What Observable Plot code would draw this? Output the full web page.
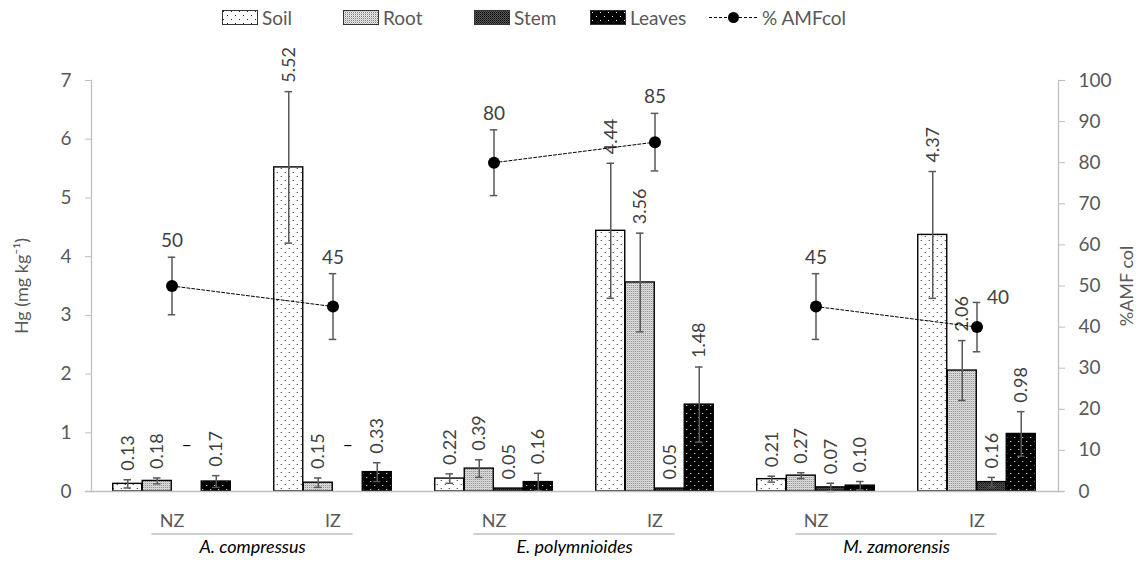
<!DOCTYPE html>
<html><head><meta charset="utf-8">
<script src="https://cdn.jsdelivr.net/npm/d3@7"></script>
<script src="https://cdn.jsdelivr.net/npm/@observablehq/plot@0.6"></script>
<style>
body{margin:0;background:#fff;font-family:Lato,"Open Sans",sans-serif;}
#legend{position:relative;height:35px;width:1141px;}
.it{position:absolute;top:0;height:35px;display:flex;align-items:center;gap:4px;font-size:19px;color:#595959;}
.it svg{display:block}
</style></head><body>
<svg width="0" height="0" style="position:absolute">
<defs>
<pattern id="pSoil" width="8" height="8" patternUnits="userSpaceOnUse">
<rect width="8" height="8" fill="#fff"/><rect x="1" y="1" width="1" height="1" fill="#222"/><rect x="5" y="5" width="1" height="1" fill="#222"/></pattern>
<pattern id="pRoot" width="2" height="2" patternUnits="userSpaceOnUse">
<rect width="2" height="2" fill="#e8e8e8"/><rect x="0" y="0" width="1" height="1" fill="#7c7c7c"/><rect x="1" y="1" width="1" height="1" fill="#c8c8c8"/></pattern>
<pattern id="pStem" width="2" height="2" patternUnits="userSpaceOnUse">
<rect width="2" height="2" fill="#5a5a5a"/><rect x="0" y="0" width="1" height="1" fill="#000"/><rect x="1" y="1" width="1" height="1" fill="#2a2a2a"/></pattern>
<pattern id="pLeaves" width="8" height="8" patternUnits="userSpaceOnUse">
<rect width="8" height="8" fill="#000"/><rect x="2" y="2" width="1" height="1" fill="#fff"/><rect x="6" y="6" width="1" height="1" fill="#fff"/></pattern>
</defs></svg>
<div id="legend"></div>
<div id="chart"></div>
<script>
// ---- data ----
const species = ["A. compressus", "E. polymnioides", "M. zamorensis"];
const zones = ["NZ", "IZ"];
const seriesNames = ["Soil", "Root", "Stem", "Leaves"];
const hgSoil   = [0.13, 5.52, 0.22, 4.44, 0.21, 4.37];
const hgRoot   = [0.18, 0.15, 0.39, 3.56, 0.27, 2.06];
const hgStem   = [null, null, 0.05, 0.05, 0.07, 0.16];
const hgLeaves = [0.17, 0.33, 0.16, 1.48, 0.10, 0.98];
const sdSoil   = [0.07, 1.29, 0.08, 1.15, 0.05, 1.08];
const sdRoot   = [0.05, 0.08, 0.15, 0.84, 0.05, 0.51];
const sdStem   = [null, null, 0, 0, 0.07, 0.08];
const sdLeaves = [0.10, 0.16, 0.15, 0.64, 0.07, 0.38];
const amfCol   = [50, 45, 80, 85, 45, 40];
const sdAmf    = [7, 8, 8, 7, 8, 6];
const leftTicks  = [0, 1, 2, 3, 4, 5, 6, 7];
const rightTicks = [0, 10, 20, 30, 40, 50, 60, 70, 80, 90, 100];
const yTitle = "Hg (mg kg⁻¹)";
const y2Title = "%AMF col";
const amfName = "% AMFcol";

// ---- build tables ----
const cats = species.flatMap(s => zones.map(z => `${s}|${z}`));
const hg = [hgSoil, hgRoot, hgStem, hgLeaves];
const sd = [sdSoil, sdRoot, sdStem, sdLeaves];
const rows = cats.flatMap((c, i) => seriesNames.map((s, j) => ({cat: c, series: s, j, v: hg[j][i], e: sd[j][i]})));
const amfRows = cats.map((c, i) => ({cat: c, sp: species[Math.floor(i / 2)], v: amfCol[i], e: sdAmf[i], i}));
const K = leftTicks[leftTicks.length - 1] / rightTicks[rightTicks.length - 1];

const W = 1141, H = 530, mL = 91, mR = 83, mT = 45, mB = 74;
const step = (W - mL - mR) / cats.length;
const bw = 29.5;
const pInner = 1 - bw / step;
const offs = seriesNames.map((s, j) => (j - 1.5) * bw);
const capIn = (bw - 8) / 2;
const errColor = "#595959";

const marks = [];
seriesNames.forEach((name, j) => {
  const d = rows.filter(r => r.j === j && r.v != null);
  marks.push(Plot.barY(d, {x: "cat", y: "v", fill: `url(#p${name})`, stroke: "#000", strokeWidth: 1.4, dx: offs[j]}));
});
seriesNames.forEach((name, j) => {
  const d = rows.filter(r => r.j === j && r.v != null && r.e > 0);
  marks.push(Plot.ruleX(d, {x: "cat", y1: r => r.v - r.e, y2: r => r.v + r.e, stroke: errColor, strokeWidth: 1.5, dx: offs[j]}));
  marks.push(Plot.tickY(d, {x: "cat", y: r => r.v + r.e, stroke: errColor, strokeWidth: 1.5, dx: offs[j], insetLeft: capIn, insetRight: capIn}));
  marks.push(Plot.tickY(d, {x: "cat", y: r => r.v - r.e, stroke: errColor, strokeWidth: 1.5, dx: offs[j], insetLeft: capIn, insetRight: capIn}));
  const lab = rows.filter(r => r.j === j && r.v != null);
  marks.push(Plot.text(lab, {x: "cat", y: r => r.v + (r.e || 0), text: r => r.v.toFixed(2), rotate: -90, textAnchor: "start", lineAnchor: "middle", dx: offs[j], dy: -9, fontSize: 18, fill: "#404040"}));
  const miss = rows.filter(r => r.j === j && r.v == null);
  marks.push(Plot.text(miss, {x: "cat", y: () => 0, text: () => "–", dx: offs[j], dy: -46, fontSize: 18, fill: "#000"}));
});

// AMF series (right axis, mapped onto left scale)
marks.push(Plot.line(amfRows, {x: "cat", y: d => d.v * K, z: "sp", stroke: "#000", strokeWidth: 1, strokeDasharray: "3,2"}));
marks.push(Plot.ruleX(amfRows, {x: "cat", y1: d => (d.v - d.e) * K, y2: d => (d.v + d.e) * K, stroke: errColor, strokeWidth: 1.5}));
marks.push(Plot.tickY(amfRows, {x: "cat", y: d => (d.v + d.e) * K, stroke: errColor, strokeWidth: 1.5, insetLeft: capIn, insetRight: capIn}));
marks.push(Plot.tickY(amfRows, {x: "cat", y: d => (d.v - d.e) * K, stroke: errColor, strokeWidth: 1.5, insetLeft: capIn, insetRight: capIn}));
marks.push(Plot.dot(amfRows, {x: "cat", y: d => d.v * K, r: 6, fill: "#000", stroke: "none"}));
const lastI = amfRows.length - 1;
marks.push(Plot.text(amfRows.filter(d => d.i !== lastI), {x: "cat", y: d => (d.v + d.e) * K, text: d => String(d.v), dy: -16, lineAnchor: "middle", fontSize: 19, fill: "#404040"}));
marks.push(Plot.text(amfRows.filter(d => d.i === lastI), {x: "cat", y: d => (d.v + d.e) * K, text: d => String(d.v), dx: 10, dy: -5, textAnchor: "start", lineAnchor: "middle", fontSize: 19, fill: "#404040"}));

// axes & frame
marks.push(Plot.ruleY([0], {stroke: "#bfbfbf", strokeWidth: 1.5, insetLeft: -6, insetRight: -6}));
marks.push(Plot.frame({anchor: "left", stroke: "#bfbfbf", strokeWidth: 1.3}));
marks.push(Plot.frame({anchor: "right", stroke: "#bfbfbf", strokeWidth: 1.3}));
marks.push(Plot.axisY({anchor: "left", ticks: leftTicks, tickFormat: d => String(d), tickSize: 6, tickPadding: 14, fontSize: 19, stroke: "#bfbfbf", fill: "#595959", label: null}));
marks.push(Plot.axisY({anchor: "right", ticks: rightTicks.map(t => t * K), tickFormat: d => String(Math.round(d / K)), tickSize: 6, tickPadding: 14, fontSize: 19, stroke: "#bfbfbf", fill: "#595959", label: null}));
marks.push(Plot.axisX({tickSize: 0, tickPadding: 23, fontSize: 18, fill: "#595959", tickFormat: d => d.split("|")[1], label: null}));
marks.push(Plot.text([yTitle], {frameAnchor: "left", dx: -69, rotate: -90, textAnchor: "middle", fontSize: 18, fill: "#595959"}));
marks.push(Plot.text([y2Title], {frameAnchor: "right", dx: 69, rotate: -90, textAnchor: "middle", fontSize: 18, fill: "#595959"}));
marks.push(Plot.text(species, {x: s => `${s}|NZ`, frameAnchor: "bottom", dy: 61, dx: step / 2, fontStyle: "italic", fontSize: 18, fill: "#000"}));

const chart = Plot.plot({
  width: W, height: H,
  marginLeft: mL, marginRight: mR, marginTop: mT, marginBottom: mB,
  style: {fontFamily: "Lato, 'Open Sans', sans-serif", background: "#fff", overflow: "visible"},
  x: {type: "band", domain: cats, paddingInner: pInner, paddingOuter: pInner / 2, axis: null},
  y: {domain: [leftTicks[0], leftTicks[leftTicks.length - 1]], axis: null},
  marks
});
document.getElementById("chart").appendChild(chart);

// group underlines beneath NZ / IZ
const xs = chart.scale("x");
const yBase = H - mB;
const sel = d3.select(chart);
species.forEach(s => {
  const x1 = xs.apply(`${s}|NZ`) + xs.bandwidth / 2 - 20;
  const x2 = xs.apply(`${s}|IZ`) + xs.bandwidth / 2 + 20;
  sel.append("line").attr("x1", x1).attr("x2", x2).attr("y1", yBase + 43).attr("y2", yBase + 43)
    .attr("stroke", "#bfbfbf").attr("stroke-width", 1.5);
});

// legend
const lg = d3.select("#legend");
const lefts = [222, 343, 474, 590];
seriesNames.forEach((n, j) => {
  const it = lg.append("div").attr("class", "it").style("left", lefts[j] + "px");
  const sv = it.append("svg").attr("width", 36).attr("height", 15);
  sv.append("rect").attr("x", 0.5).attr("y", 0.5).attr("width", 35).attr("height", 14).attr("fill", `url(#p${n})`).attr("stroke", "#333");
  it.append("span").text(n);
});
{
  const it = lg.append("div").attr("class", "it").style("left", "709px");
  const sv = it.append("svg").attr("width", 49).attr("height", 15);
  sv.append("line").attr("x1", 0).attr("x2", 49).attr("y1", 7.5).attr("y2", 7.5).attr("stroke", "#000").attr("stroke-dasharray", "3,2");
  sv.append("circle").attr("cx", 24.5).attr("cy", 7.5).attr("r", 5.5).attr("fill", "#000");
  it.append("span").text(amfName);
}
</script>
</body></html>
